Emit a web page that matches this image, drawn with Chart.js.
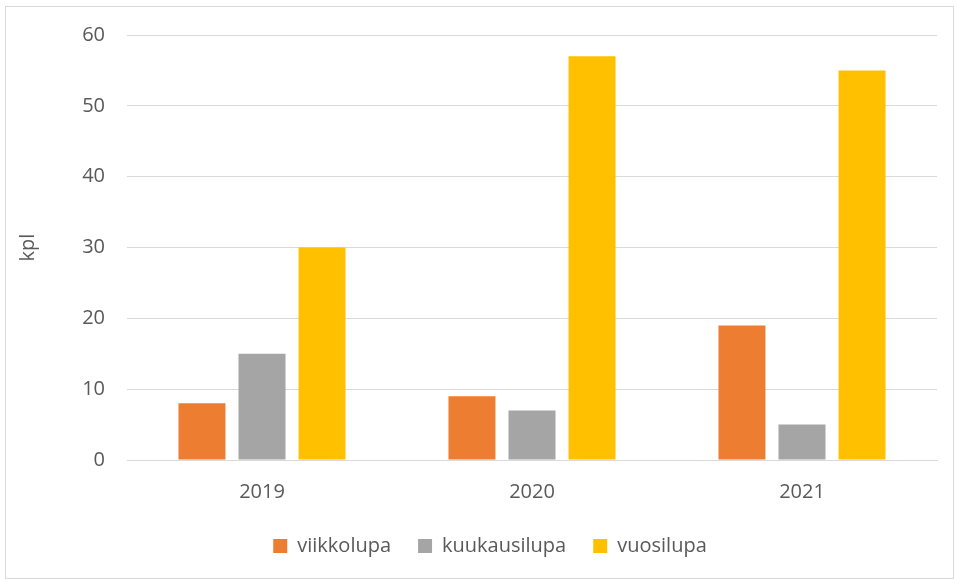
<!DOCTYPE html>
<html>
<head>
<meta charset="utf-8">
<script src="https://cdn.jsdelivr.net/npm/chart.js@4"></script>
<style>
  html, body { margin: 0; padding: 0; background: #fff; }
  #frame {
    position: absolute; left: 5px; top: 6px;
    width: 947px; height: 571px;
    border: 1px solid #d9d9d9;
  }
  #wrap { position: absolute; left: 0; top: 0; width: 954px; height: 579px; }
</style>
</head>
<body>
<div id="frame"></div>
<div id="wrap"><canvas id="myChart" width="954" height="579"></canvas></div>
<script>
const years = ['2019', '2020', '2021'];
const viikkolupa = [8, 9, 19];
const kuukausilupa = [15, 7, 5];
const vuosilupa = [30, 57, 55];
const yTicks = [0, 10, 20, 30, 40, 50, 60];

const textColor = '#595959';
const fontFamily = '"Open Sans", sans-serif';

let ctx = document.getElementById('myChart').getContext('2d');
let data = {
  labels: years,
  datasets: [
    { label: 'viikkolupa', data: viikkolupa, backgroundColor: '#ED7D31' },
    { label: 'kuukausilupa', data: kuukausilupa, backgroundColor: '#A5A5A5' },
    { label: 'vuosilupa', data: vuosilupa, backgroundColor: '#FFC000' }
  ]
};
const options = {
  responsive: false,
  animation: false,
  layout: { padding: { top: 35, right: 17, bottom: 13, left: 43 } },
  datasets: { bar: { categoryPercentage: 0.667, barPercentage: 0.783 } },
  plugins: {
    legend: {
      position: 'bottom',
      labels: {
        boxWidth: 14, boxHeight: 14, padding: 27,
        color: textColor,
        font: { family: fontFamily, size: 20 }
      }
    },
    tooltip: { enabled: false }
  },
  scales: {
    x: {
      afterFit: (scale) => { scale.height -= 15; },
      grid: { display: false, drawTicks: false },
      border: { display: true, color: '#d9d9d9' },
      ticks: { color: textColor, padding: 20, font: { family: fontFamily, size: 20 } }
    },
    y: {
      min: 0, max: 60,
      afterBuildTicks: (scale) => { scale.ticks = yTicks.map(v => ({ value: v })); },
      afterFit: (scale) => { scale.width = 84; },
      grid: { color: '#d9d9d9', drawTicks: false },
      border: { display: false },
      ticks: { color: textColor, padding: 22, font: { family: fontFamily, size: 20 } },
      title: {
        display: true, text: 'kpl', color: textColor,
        font: { family: fontFamily, size: 20 }, padding: { top: -27, bottom: 0 }
      }
    }
  }
};
let myGraph = new Chart(ctx, { type: 'bar', data: data, options: options });
</script>
</body>
</html>
